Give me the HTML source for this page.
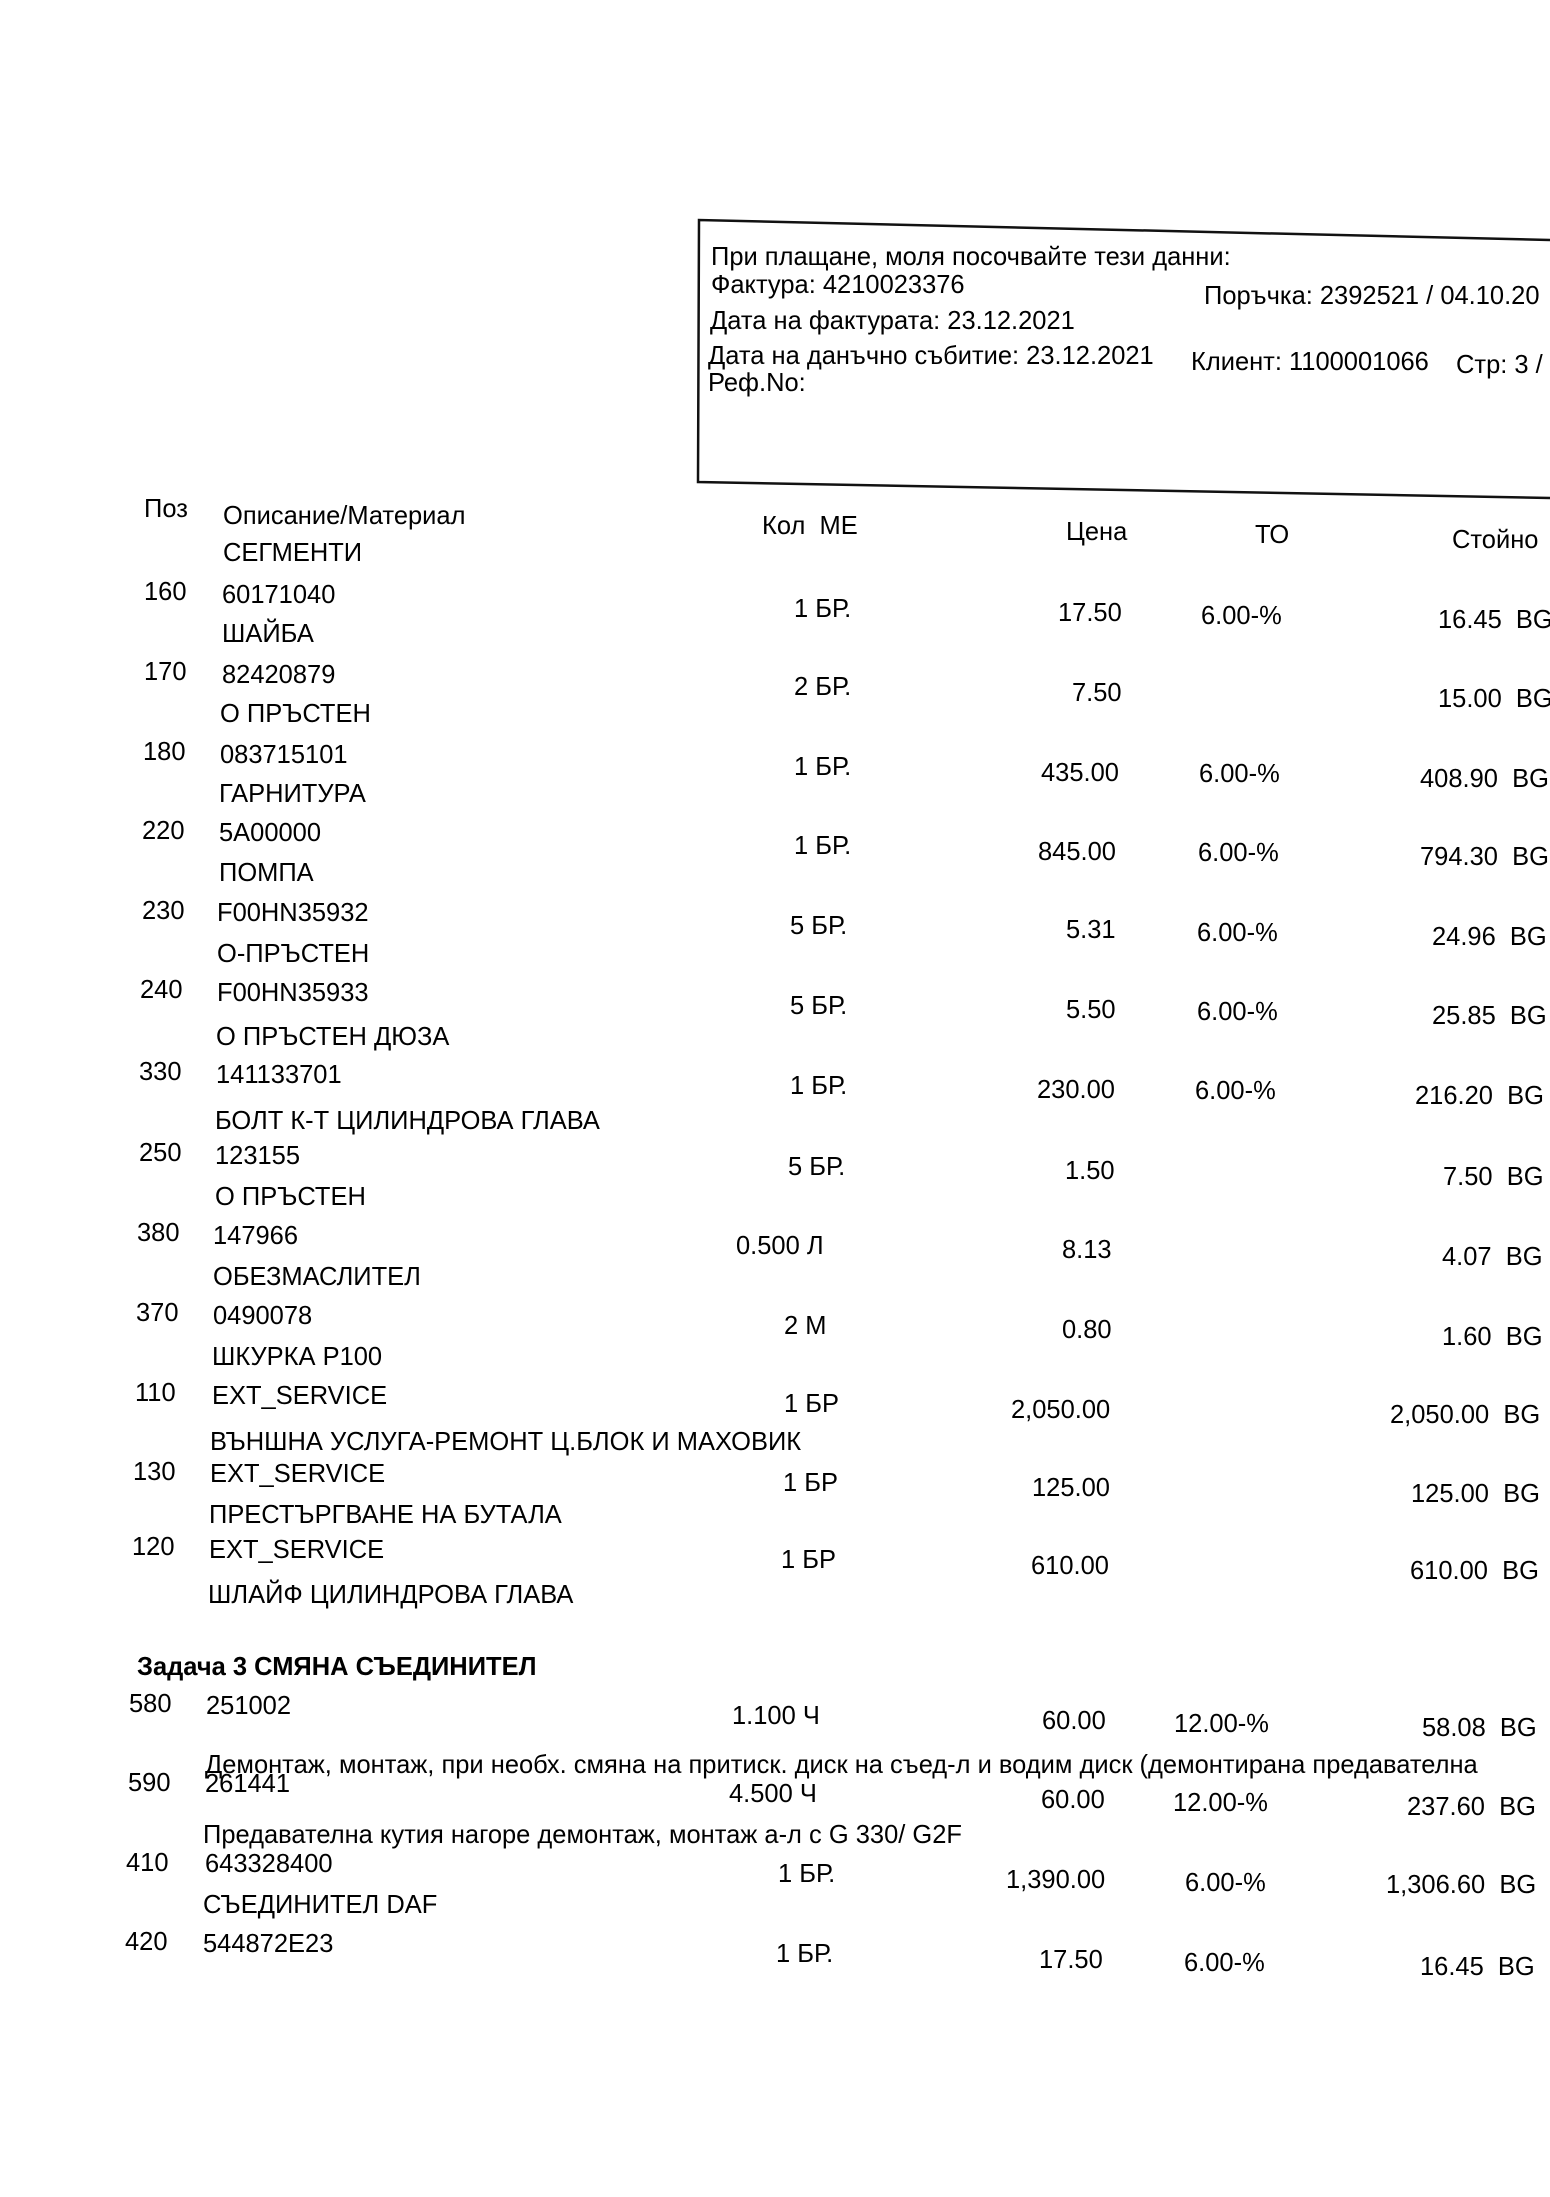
<!DOCTYPE html>
<html><head><meta charset="utf-8">
<style>
html,body{margin:0;padding:0;background:#fff;}
body{width:1550px;height:2197px;position:relative;overflow:hidden;font-family:"Liberation Sans","DejaVu Sans",sans-serif;color:#000;}
.t{position:absolute;left:calc(var(--x)*1.4027px);top:calc((var(--y) - 11)*1.4027px);font-size:26px;line-height:32px;white-space:nowrap;transform:scaleX(0.98);transform-origin:0 50%;}
.b{font-weight:bold;}
</style></head><body>
<svg width="1550" height="2197" style="position:absolute;left:0;top:0">
<polyline points="1550,240 699,220 698,482 1550,498" fill="none" stroke="#111" stroke-width="2.5"/>
</svg>
<div class="t" style="--x:507;--y:182">При плащане, моля посочвайте тези данни:</div>
<div class="t" style="--x:507;--y:202">Фактура: 4210023376</div>
<div class="t" style="--x:858;--y:210">Поръчка: 2392521 / 04.10.20</div>
<div class="t" style="--x:506;--y:228">Дата на фактурата: 23.12.2021</div>
<div class="t" style="--x:505;--y:253">Дата на данъчно събитие: 23.12.2021</div>
<div class="t" style="--x:849;--y:257">Клиент: 1100001066</div>
<div class="t" style="--x:1038;--y:259">Стр: 3 /</div>
<div class="t" style="--x:505;--y:272">Реф.No:</div>

<div class="t" style="--x:103;--y:362">Поз</div>
<div class="t" style="--x:159;--y:367">Описание/Материал</div>
<div class="t" style="--x:543;--y:374">Кол&nbsp; МЕ</div>
<div class="t" style="--x:760;--y:378">Цена</div>
<div class="t" style="--x:895;--y:380">ТО</div>
<div class="t" style="--x:1035;--y:384">Стойно</div>
<div class="t" style="--x:159;--y:393">СЕГМЕНТИ</div>

<div class="t" style="--x:103;--y:421">160</div><div class="t" style="--x:158;--y:423">60171040</div><div class="t" style="--x:566;--y:433">1 БР.</div><div class="t" style="--x:754;--y:436">17.50</div><div class="t" style="--x:856;--y:438">6.00-%</div><div class="t" style="--x:1025;--y:441">16.45&nbsp; BG</div>
<div class="t" style="--x:158;--y:451">ШАЙБА</div>
<div class="t" style="--x:103;--y:478">170</div><div class="t" style="--x:158;--y:480">82420879</div><div class="t" style="--x:566;--y:489">2 БР.</div><div class="t" style="--x:764;--y:493">7.50</div><div class="t" style="--x:1025;--y:497">15.00&nbsp; BG</div>
<div class="t" style="--x:157;--y:508">О ПРЪСТЕН</div>
<div class="t" style="--x:102;--y:535">180</div><div class="t" style="--x:157;--y:537">083715101</div><div class="t" style="--x:566;--y:546">1 БР.</div><div class="t" style="--x:742;--y:550">435.00</div><div class="t" style="--x:855;--y:551">6.00-%</div><div class="t" style="--x:1012;--y:554">408.90&nbsp; BG</div>
<div class="t" style="--x:156;--y:565">ГАРНИТУРА</div>
<div class="t" style="--x:101;--y:591">220</div><div class="t" style="--x:156;--y:593">5A00000</div><div class="t" style="--x:566;--y:602">1 БР.</div><div class="t" style="--x:740;--y:606">845.00</div><div class="t" style="--x:854;--y:607">6.00-%</div><div class="t" style="--x:1012;--y:610">794.30&nbsp; BG</div>
<div class="t" style="--x:156;--y:621">ПОМПА</div>
<div class="t" style="--x:101;--y:648">230</div><div class="t" style="--x:155;--y:650">F00HN35932</div><div class="t" style="--x:563;--y:659">5 БР.</div><div class="t" style="--x:760;--y:662">5.31</div><div class="t" style="--x:853;--y:664">6.00-%</div><div class="t" style="--x:1021;--y:667">24.96&nbsp; BG</div>
<div class="t" style="--x:155;--y:679">О-ПРЪСТЕН</div>
<div class="t" style="--x:100;--y:705">240</div><div class="t" style="--x:155;--y:707">F00HN35933</div><div class="t" style="--x:563;--y:716">5 БР.</div><div class="t" style="--x:760;--y:719">5.50</div><div class="t" style="--x:853;--y:720">6.00-%</div><div class="t" style="--x:1021;--y:723">25.85&nbsp; BG</div>
<div class="t" style="--x:154;--y:738">О ПРЪСТЕН ДЮЗА</div>
<div class="t" style="--x:99;--y:763">330</div><div class="t" style="--x:154;--y:765">141133701</div><div class="t" style="--x:563;--y:773">1 БР.</div><div class="t" style="--x:739;--y:776">230.00</div><div class="t" style="--x:852;--y:777">6.00-%</div><div class="t" style="--x:1009;--y:780">216.20&nbsp; BG</div>
<div class="t" style="--x:153;--y:798">БОЛТ К-Т ЦИЛИНДРОВА ГЛАВА</div>
<div class="t" style="--x:99;--y:821">250</div><div class="t" style="--x:153;--y:823">123155</div><div class="t" style="--x:562;--y:831">5 БР.</div><div class="t" style="--x:759;--y:834">1.50</div><div class="t" style="--x:1029;--y:838">7.50&nbsp; BG</div>
<div class="t" style="--x:153;--y:852">О ПРЪСТЕН</div>
<div class="t" style="--x:98;--y:878">380</div><div class="t" style="--x:152;--y:880">147966</div><div class="t" style="--x:525;--y:887">0.500 Л</div><div class="t" style="--x:757;--y:890">8.13</div><div class="t" style="--x:1028;--y:895">4.07&nbsp; BG</div>
<div class="t" style="--x:152;--y:909">ОБЕЗМАСЛИТЕЛ</div>
<div class="t" style="--x:97;--y:935">370</div><div class="t" style="--x:152;--y:937">0490078</div><div class="t" style="--x:559;--y:944">2 М</div><div class="t" style="--x:757;--y:947">0.80</div><div class="t" style="--x:1028;--y:952">1.60&nbsp; BG</div>
<div class="t" style="--x:151;--y:966">ШКУРКА P100</div>
<div class="t" style="--x:96;--y:992">110</div><div class="t" style="--x:151;--y:994">EXT_SERVICE</div><div class="t" style="--x:559;--y:1000">1 БР</div><div class="t" style="--x:721;--y:1004">2,050.00</div><div class="t" style="--x:991;--y:1008">2,050.00&nbsp; BG</div>
<div class="t" style="--x:150;--y:1027">ВЪНШНА УСЛУГА-РЕМОНТ Ц.БЛОК И МАХОВИК</div>
<div class="t" style="--x:95;--y:1048">130</div><div class="t" style="--x:150;--y:1050">EXT_SERVICE</div><div class="t" style="--x:558;--y:1056">1 БР</div><div class="t" style="--x:736;--y:1060">125.00</div><div class="t" style="--x:1006;--y:1064">125.00&nbsp; BG</div>
<div class="t" style="--x:149;--y:1079">ПРЕСТЪРГВАНЕ НА БУТАЛА</div>
<div class="t" style="--x:94;--y:1102">120</div><div class="t" style="--x:149;--y:1104">EXT_SERVICE</div><div class="t" style="--x:557;--y:1111">1 БР</div><div class="t" style="--x:735;--y:1115">610.00</div><div class="t" style="--x:1005;--y:1119">610.00&nbsp; BG</div>
<div class="t" style="--x:148;--y:1136">ШЛАЙФ ЦИЛИНДРОВА ГЛАВА</div>

<div class="t b" style="--x:98;--y:1187">Задача 3 СМЯНА СЪЕДИНИТЕЛ</div>
<div class="t" style="--x:92;--y:1214">580</div><div class="t" style="--x:147;--y:1215">251002</div><div class="t" style="--x:522;--y:1222">1.100 Ч</div><div class="t" style="--x:743;--y:1226">60.00</div><div class="t" style="--x:837;--y:1228">12.00-%</div><div class="t" style="--x:1014;--y:1231">58.08&nbsp; BG</div>
<div class="t" style="--x:146;--y:1257">Демонтаж, монтаж, при необх. смяна на притиск. диск на съед-л и водим диск (демонтирана предавателна</div>
<div class="t" style="--x:91;--y:1270">590</div><div class="t" style="--x:146;--y:1271">261441</div><div class="t" style="--x:520;--y:1278">4.500 Ч</div><div class="t" style="--x:742;--y:1282">60.00</div><div class="t" style="--x:836;--y:1284">12.00-%</div><div class="t" style="--x:1003;--y:1287">237.60&nbsp; BG</div>
<div class="t" style="--x:145;--y:1307">Предавателна кутия нагоре демонтаж, монтаж а-л с G 330/ G2F</div>
<div class="t" style="--x:90;--y:1327">410</div><div class="t" style="--x:146;--y:1328">643328400</div><div class="t" style="--x:555;--y:1335">1 БР.</div><div class="t" style="--x:717;--y:1339">1,390.00</div><div class="t" style="--x:845;--y:1341">6.00-%</div><div class="t" style="--x:988;--y:1343">1,306.60&nbsp; BG</div>
<div class="t" style="--x:145;--y:1357">СЪЕДИНИТЕЛ DAF</div>
<div class="t" style="--x:89;--y:1383">420</div><div class="t" style="--x:145;--y:1385">544872E23</div><div class="t" style="--x:553;--y:1392">1 БР.</div><div class="t" style="--x:741;--y:1396">17.50</div><div class="t" style="--x:844;--y:1398">6.00-%</div><div class="t" style="--x:1012;--y:1401">16.45&nbsp; BG</div>
</body></html>
